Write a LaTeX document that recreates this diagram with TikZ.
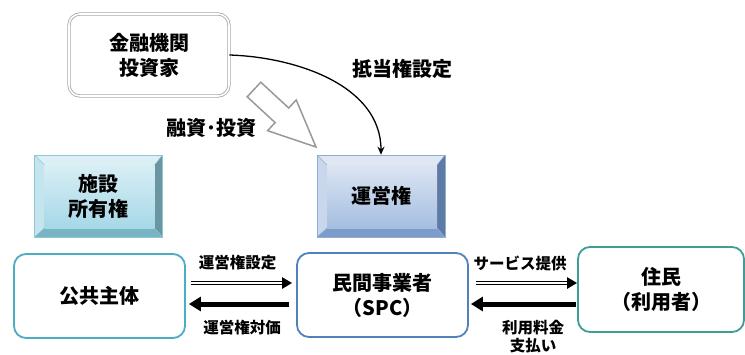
\documentclass[tikz,border=0pt]{standalone}
\usepackage{fontspec}
\setmainfont{Noto Sans CJK JP}
\usetikzlibrary{arrows.meta,calc}
\definecolor{kborder}{HTML}{4BACC6}
\definecolor{mborder}{HTML}{4F81BD}
\definecolor{jborder}{HTML}{3E9E96}
\definecolor{sT}{HTML}{DCEFF5}
\definecolor{sL}{HTML}{C5E5EE}
\definecolor{sR}{HTML}{6A96A2}
\definecolor{sB}{HTML}{78B4C4}
\definecolor{sI1}{HTML}{D8EEF5}
\definecolor{sI2}{HTML}{A6D8E7}
\definecolor{sD}{HTML}{8CC8D8}
\definecolor{uT}{HTML}{DFE7F3}
\definecolor{uL}{HTML}{C9D7EC}
\definecolor{uR}{HTML}{5D7BA5}
\definecolor{uB}{HTML}{7E9CCB}
\definecolor{uI1}{HTML}{DCE5F2}
\definecolor{uI2}{HTML}{A5BEE0}
\definecolor{uD}{HTML}{8EADD5}
\begin{document}
\begin{tikzpicture}[x=1pt,y=-1pt,
  font=\bfseries,
  lab/.style={font=\fontsize{20}{25}\selectfont\bfseries, align=center},
  small/.style={font=\fontsize{15.5}{17.5}\selectfont\bfseries, align=center},
  rbox/.style={draw=#1, line width=1.8pt, rounded corners=12pt, fill=white,
    minimum width=171pt, minimum height=84pt, inner sep=0pt, align=center,
    font=\fontsize{20}{25}\selectfont\bfseries},
  bevel/.style n args={7}{draw=#7, line width=0.6pt, minimum width=128pt, minimum height=82pt,
    inner sep=0pt, align=center, font=\fontsize{20}{25}\selectfont\bfseries,
    path picture={
      \path (path picture bounding box.north west) coordinate (o1)
            (path picture bounding box.north east) coordinate (o2)
            (path picture bounding box.south east) coordinate (o3)
            (path picture bounding box.south west) coordinate (o4);
      \path (o1) ++(10,10) coordinate (i1) (o2) ++(-8,10) coordinate (i2)
            (o3) ++(-8,-9) coordinate (i3) (o4) ++(10,-9) coordinate (i4);
      \fill[#1] (o1)--(o2)--(i2)--(i1)--cycle;
      \fill[#2] (o1)--(i1)--(i4)--(o4)--cycle;
      \fill[#3] (o2)--(o3)--(i3)--(i2)--cycle;
      \fill[#4] (o4)--(i4)--(i3)--(o3)--cycle;
      \shade[top color=#5, bottom color=#6] (i1) rectangle (i3);
      \draw[#7, line width=0.4pt] (o1)--(i1) (o2)--(i2) (o3)--(i3) (o4)--(i4);
    }},
  dbl/.style={line width=4pt, -{Triangle[length=10pt,width=11pt]},
    postaction={draw=white, line width=1.6pt, shorten >=10pt, -}},
  thk/.style={line width=5pt, -{Triangle[length=12pt,width=14pt]}},
  curv/.style={line width=1.3pt, -{Stealth[length=8pt,width=7pt]}}
]
\useasboundingbox (0,0) rectangle (745,354);

% top box
\node[draw=gray!70, double=white, double distance=1.6pt, line width=0.8pt,
  rounded corners=11pt, minimum width=160pt, minimum height=82pt, inner sep=0pt,
  lab] (kinyu) at (149,55) {金融機関\\投資家};

% bevel boxes
\node[bevel={sT}{sL}{sR}{sB}{sI1}{sI2}{sD}] (shisetsu) at (98.5,196) {施設\\所有権};
\node[bevel={uT}{uL}{uR}{uB}{uI1}{uI2}{uD}] (unei) at (381,196) {運営権};

% bottom boxes
\node[rbox=kborder] (kokyo) at (99.5,296) {公共主体};
\node[rbox=mborder] (minkan) at (382.5,295) {民間事業者\\（SPC）};
\node[rbox=jborder, minimum width=166pt, minimum height=85pt] (jumin) at (661,289.5) {住民\\（利用者）};

% block arrow (hollow)
\draw[gray!80, line width=1.5pt, fill=white, line join=miter]
  (247.2,96.8) -- (260.8,82.2) -- (288.7,108) -- (296.2,99.9) -- (316,147)
  -- (267.6,130.7) -- (275.1,122.6) -- cycle;
\node[lab] (yushi) at (211,128) {融資･投資};

% curved arrow
\draw[curv] (kinyu.east) .. controls (295,57) and (381,85) .. (unei.north);
\node[lab] (teito) at (402,69) {抵当権設定};

% horizontal arrows
\draw[dbl] ($(kokyo.east |- 0,283)+(5,0)$) -- ($(minkan.west |- 0,283)+(-4,0)$);
\draw[thk] ($(minkan.west |- 0,304)+(-7,0)$) -- ($(kokyo.east |- 0,304)+(3,0)$);
\draw[dbl] ($(minkan.east |- 0,283)+(7,0)$) -- ($(jumin.west |- 0,283)$);
\draw[thk] ($(jumin.west |- 0,304)+(-1,0)$) -- ($(minkan.east |- 0,304)+(2,0)$);

\node[small] (l1) at (237.5,263) {運営権設定};
\node[small] (l2) at (242,328) {運営権対価};
\node[small] (l3) at (520,263) {サービス提供};
\node[small] (l4) at (533,336.5) {利用料金\\支払い};
\end{tikzpicture}
\end{document}
